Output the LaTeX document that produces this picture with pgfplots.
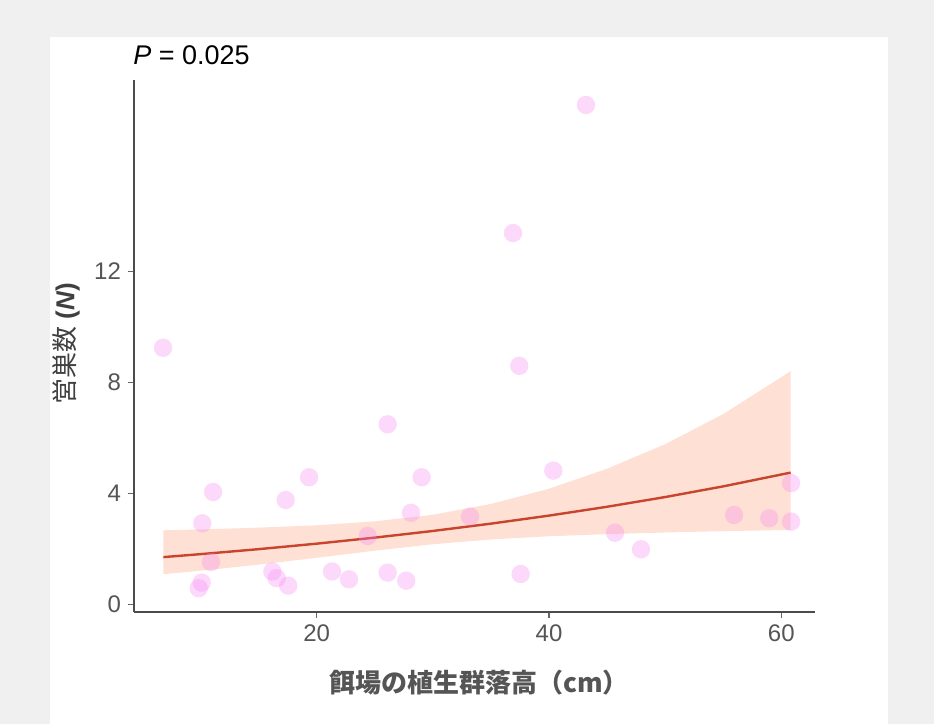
\documentclass[border=0pt]{standalone}
\usepackage{pgfplots}
\pgfplotsset{compat=1.18}
\usepackage{pgfplotstable}
\usetikzlibrary{backgrounds}
\usepackage{fontspec}
\setmainfont{Liberation Sans}
\newfontfamily\cjk{Noto Sans CJK JP}
\definecolor{bg}{RGB}{240,240,240}
\definecolor{ptcol}{RGB}{248,130,245}
\definecolor{bandcol}{RGB}{254,224,212}
\definecolor{linecol}{RGB}{200,68,45}
\definecolor{tickcol}{RGB}{85,85,85}
\definecolor{labcol}{RGB}{85,85,85}

\pgfplotstableread{
x y
6.77 9.25
43.18 18.01
36.90 13.39
37.44 8.60
26.11 6.49
40.37 4.82
19.34 4.58
29.04 4.58
11.08 4.05
17.33 3.76
28.12 3.30
33.20 3.16
10.15 2.92
24.39 2.46
10.90 1.52
45.68 2.58
47.92 1.98
55.93 3.22
58.96 3.10
60.84 4.37
60.84 2.98
37.56 1.09
10.10 0.78
9.84 0.58
16.18 1.18
16.56 0.94
17.55 0.67
21.32 1.18
22.78 0.90
26.11 1.14
27.71 0.85
}\points

\pgfplotstableread{
x fit
6.8 1.700
10 1.807
15 1.987
20 2.185
25 2.403
30 2.643
35 2.907
40 3.197
45 3.516
50 3.866
55 4.252
60.8 4.748
}\fitline

\begin{document}
\begin{tikzpicture}
\begin{axis}[
  scale only axis, width=340.5pt, height=266pt,
  xmin=4.27, xmax=62.9, ymin=-0.28, ymax=18.91,
  axis x line*=bottom, axis y line*=left,
  xtick={20,40,60}, ytick={0,4,8,12},
  tick align=outside, major tick length=3pt,
  minor tick num=0,
  tick style={color=black!60, line width=0.7pt},
  axis line style={color=black!70, line width=0.9pt},
  ticklabel style={font=\fontsize{12}{14}\selectfont, color=tickcol},
  /pgf/number format/assume math mode=true,
]
\coordinate (O) at (rel axis cs:0,0);
\addplot[draw=none, fill=bandcol] coordinates {
(6.8,2.666) (10,2.698) (15,2.762) (20,2.847) (25,2.989) (30,3.227) (35,3.616) (40,4.166) (45,4.887) (50,5.772) (55,6.858) (60.8,8.404)
(60.8,2.682) (55,2.636) (50,2.589) (45,2.529) (40,2.454) (35,2.337) (30,2.165) (25,1.932) (20,1.677) (15,1.429) (10,1.210) (6.8,1.084)
} --cycle;
\addplot[only marks, mark=*, color=ptcol, mark size=4.6pt, mark options={draw opacity=0, fill opacity=0.3}] table[x=x,y=y] {\points};
\addplot[color=linecol, line width=1.2pt, no marks] table[x=x,y=fit] {\fitline};
\end{axis}
\begin{scope}[shift={(O)}]
\begin{scope}[on background layer]
\fill[bg] (-67pt,-56pt) rectangle (400pt,306pt);
\fill[white] (-42pt,-56pt) rectangle (377pt,287.5pt);
\end{scope}
\node[anchor=base west, inner sep=0pt, font=\fontsize{13.5}{15}\selectfont] at (-0.5pt,273.8pt) {\textit{P} = 0.025};
\node[rotate=90, inner sep=0pt, text=black!75, font=\fontsize{13}{15}\selectfont] at (-34pt,134pt) {{\cjk 営巣数} \textbf{(\textit{N})}};
\node[inner sep=0pt, text=labcol, font=\fontsize{13}{15}\selectfont\bfseries] at (172.5pt,-35.5pt) {\cjk 餌場の植生群落高（cm）};
\useasboundingbox (-67pt,-56pt) rectangle (400pt,306pt);
\end{scope}
\end{tikzpicture}
\end{document}
